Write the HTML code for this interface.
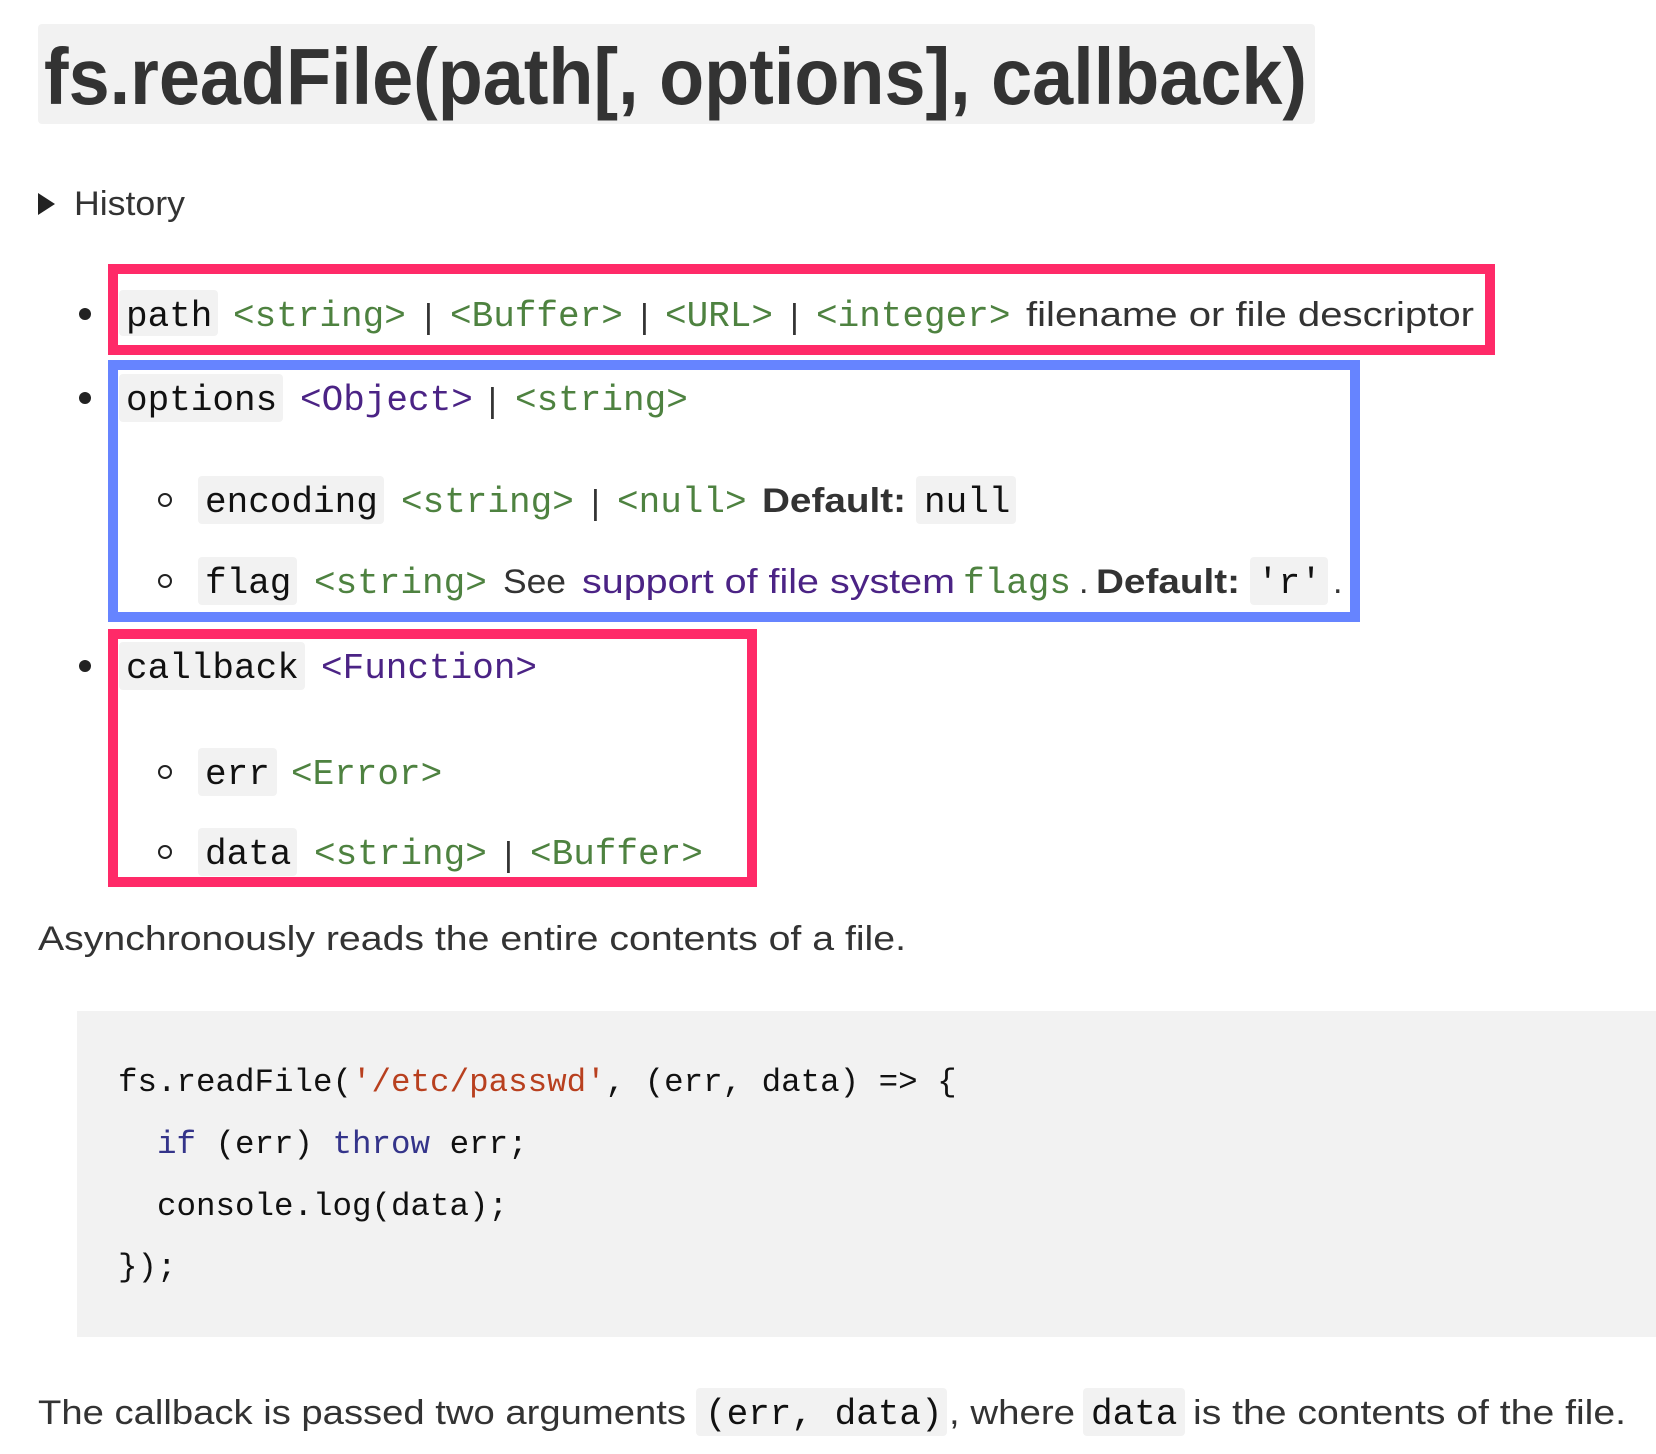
<!DOCTYPE html>
<html><head><meta charset="utf-8"><style>
html,body{margin:0;padding:0;background:#fff;width:1656px;height:1454px;overflow:hidden}
svg{display:block}
.m{font-family:"Liberation Mono",monospace;font-size:36px}
.s{font-family:"Liberation Sans",sans-serif;font-size:34px;fill:#333}
.g{fill:#4e8240}.p{fill:#4b2385}.k{fill:#111}
.c{font-family:"Liberation Mono",monospace;font-size:32.5px;fill:#111}
.bg{fill:#f2f2f2}
</style></head><body>
<svg width="1656" height="1454" viewBox="0 0 1656 1454">
<rect x="38" y="24" width="1277" height="100" rx="4" class="bg"/>
<text x="44" y="104" font-family="Liberation Sans,sans-serif" font-weight="bold" font-size="80" fill="#333" textLength="1263" lengthAdjust="spacingAndGlyphs">fs.readFile(path[, options], callback)</text>
<polygon points="38,193 55,204 38,215" fill="#222"/>
<text x="74" y="215" class="s" font-size="32" textLength="111" lengthAdjust="spacingAndGlyphs">History</text>

<rect x="113" y="269" width="1377" height="81" fill="none" stroke="#ff2a68" stroke-width="10"/>
<rect x="113" y="365" width="1242" height="252" fill="none" stroke="#6684ff" stroke-width="10"/>
<rect x="113" y="634" width="639" height="248" fill="none" stroke="#ff2a68" stroke-width="10"/>

<circle cx="85" cy="314" r="6" fill="#222"/>
<circle cx="85" cy="398" r="6" fill="#222"/>
<circle cx="85" cy="666" r="6" fill="#222"/>
<circle cx="165" cy="500" r="6" fill="none" stroke="#222" stroke-width="2"/>
<circle cx="165" cy="581" r="6" fill="none" stroke="#222" stroke-width="2"/>
<circle cx="165" cy="772" r="6" fill="none" stroke="#222" stroke-width="2"/>
<circle cx="165" cy="852" r="6" fill="none" stroke="#222" stroke-width="2"/>

<rect x="119" y="290" width="99" height="46" rx="4" class="bg"/>
<text y="326" class="m"><tspan x="126" class="k">path</tspan><tspan x="233" class="g">&lt;string&gt;</tspan><tspan x="450" class="g">&lt;Buffer&gt;</tspan><tspan x="665" class="g">&lt;URL&gt;</tspan><tspan x="816" class="g">&lt;integer&gt;</tspan></text>
<text y="328" class="s" font-size="40"><tspan x="424">|</tspan><tspan x="640">|</tspan><tspan x="790">|</tspan></text>
<text x="1026" y="326" class="s" textLength="448" lengthAdjust="spacingAndGlyphs">filename or file descriptor</text>

<rect x="119" y="374" width="164" height="48" rx="4" class="bg"/>
<text y="410" class="m"><tspan x="126" class="k">options</tspan><tspan x="300" class="p">&lt;Object&gt;</tspan><tspan x="515" class="g">&lt;string&gt;</tspan></text>
<text x="488" y="412" class="s" font-size="40">|</text>

<rect x="198" y="476" width="186" height="48" rx="4" class="bg"/>
<rect x="916" y="476" width="100" height="48" rx="4" class="bg"/>
<text y="512" class="m"><tspan x="205" class="k">encoding</tspan><tspan x="401" class="g">&lt;string&gt;</tspan><tspan x="617" class="g">&lt;null&gt;</tspan><tspan x="924" class="k">null</tspan></text>
<text x="591" y="514" class="s" font-size="40">|</text>
<text x="762" y="512" class="s" font-weight="bold" textLength="144" lengthAdjust="spacingAndGlyphs">Default:</text>

<rect x="198" y="557" width="99" height="48" rx="4" class="bg"/>
<rect x="1250" y="557" width="78" height="48" rx="4" class="bg"/>
<text y="593" class="m"><tspan x="205" class="k">flag</tspan><tspan x="314" class="g">&lt;string&gt;</tspan><tspan x="963" class="g">flags</tspan><tspan x="1257" class="k">'r'</tspan></text>
<text x="503" y="593" class="s" textLength="63" lengthAdjust="spacingAndGlyphs">See</text>
<text x="582" y="593" class="s p" textLength="373" lengthAdjust="spacingAndGlyphs">support of file system</text>
<text x="1079" y="593" class="s">.</text>
<text x="1096" y="593" class="s" font-weight="bold" textLength="144" lengthAdjust="spacingAndGlyphs">Default:</text>
<text x="1333" y="593" class="s">.</text>

<rect x="119" y="642" width="186" height="48" rx="4" class="bg"/>
<text y="678" class="m"><tspan x="126" class="k">callback</tspan><tspan x="321" class="p">&lt;Function&gt;</tspan></text>

<rect x="198" y="748" width="79" height="48" rx="4" class="bg"/>
<text y="784" class="m"><tspan x="205" class="k">err</tspan><tspan x="291" class="g">&lt;Error&gt;</tspan></text>

<rect x="198" y="828" width="99" height="48" rx="4" class="bg"/>
<text y="864" class="m"><tspan x="205" class="k">data</tspan><tspan x="314" class="g">&lt;string&gt;</tspan><tspan x="530" class="g">&lt;Buffer&gt;</tspan></text>
<text x="504" y="866" class="s" font-size="40">|</text>

<text x="38" y="950" class="s" textLength="868" lengthAdjust="spacingAndGlyphs">Asynchronously reads the entire contents of a file.</text>

<rect x="77" y="1011" width="1579" height="326" class="bg"/>
<text x="118" y="1091" class="c">fs.readFile(<tspan fill="#b8401f">'/etc/passwd'</tspan>, (err, data) =&gt; {</text>
<text x="157" y="1153" class="c"><tspan fill="#34348a">if</tspan> (err) <tspan fill="#34348a">throw</tspan> err;</text>
<text x="157" y="1215" class="c">console.log(data);</text>
<text x="118" y="1276" class="c">});</text>

<rect x="696" y="1388" width="251" height="48" rx="4" class="bg"/>
<rect x="1083" y="1388" width="102" height="48" rx="4" class="bg"/>
<text x="38" y="1424" class="s" textLength="648" lengthAdjust="spacingAndGlyphs">The callback is passed two arguments</text>
<text y="1424" class="m"><tspan x="705" class="k">(err, data)</tspan><tspan x="1091" class="k">data</tspan></text>
<text x="949" y="1424" class="s" textLength="126" lengthAdjust="spacingAndGlyphs">, where</text>
<text x="1193" y="1424" class="s" textLength="433" lengthAdjust="spacingAndGlyphs">is the contents of the file.</text>
</svg>
</body></html>
